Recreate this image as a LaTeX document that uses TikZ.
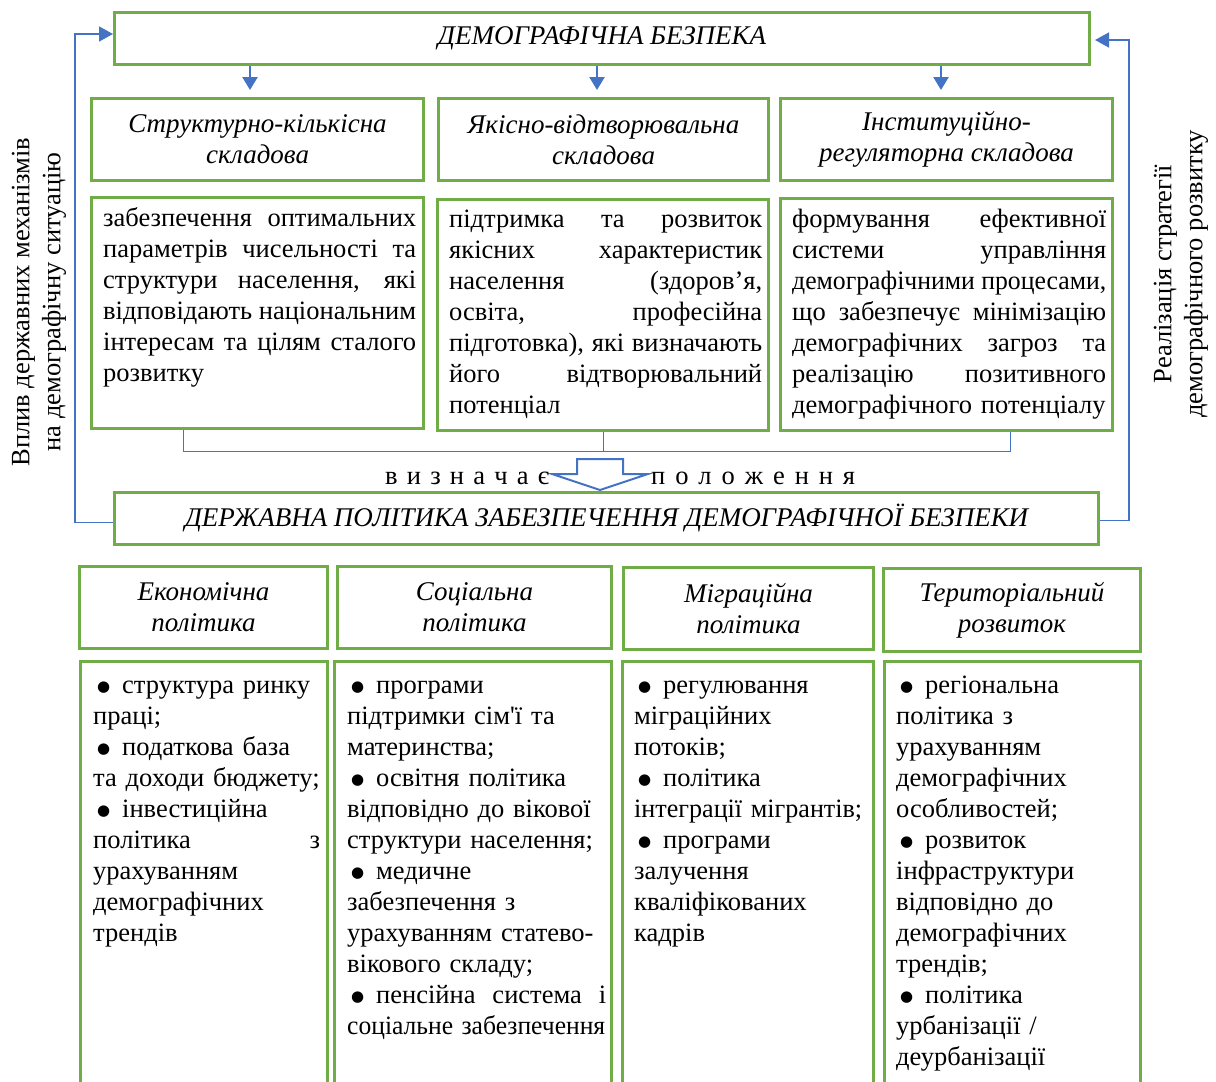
\documentclass[tikz,border=0pt]{standalone}
\usepackage{fontspec}
\usepackage{graphicx}
\setmainfont{Liberation Serif}[Ligatures=TeXOff]
\newfontfamily\dvs{DejaVu Sans}
\usetikzlibrary{arrows.meta}
\definecolor{grn}{HTML}{70AD47}
\definecolor{blu}{HTML}{4472C4}
\newsavebox\jbox
\newcommand\J[2]{\leavevmode\sbox\jbox{\spaceskip=0.25em\relax #2}%
  \ifdim\wd\jbox>#1\relax\resizebox{#1}{\height}{\usebox\jbox}%
  \else\hbox to #1{\spaceskip=0.25em plus 1fil\relax #2}\fi}
\newcommand\Cap[2]{\leavevmode\sbox\jbox{#2}%
  \ifdim\wd\jbox>#1\relax\resizebox{#1}{\height}{\usebox\jbox}\else\usebox\jbox\fi}
\newcommand\B{\hspace*{4pt}\makebox[25pt][l]{\raisebox{2.5pt}{\dvs\fontsize{15}{15}\selectfont ●}}}
\newcommand\fs{\fontsize{26.5}{31}\selectfont}
\newcommand\fh{\fontsize{27}{31}\selectfont}
\tikzset{
  gbox/.style={draw=grn, line width=3pt, anchor=north west, inner sep=0pt},
  hdr/.style={font=\fh\itshape, align=center},
  body/.style={font=\fs, align=left, anchor=north west, inner sep=0pt},
  fb/.style={draw=blu, line width=1.5pt},
  dn/.style={draw=blu, line width=2.5pt, -{Triangle[width=15pt,length=13pt]}},
  fbarrow/.style={fb, -{Triangle[width=15pt,length=14pt]}},
  brk/.style={draw=blu, line width=1pt}
}
\begin{document}
\begin{tikzpicture}[x=1pt,y=-1pt]
\useasboundingbox (0,0) rectangle (1216,1082);
\clip (0,0) rectangle (1216,1082);
% top title
\node[gbox, minimum width=975pt, minimum height=52pt] (top) at (113,11) {};
\node[hdr] (topt) at (top.center) {ДЕМОГРАФІЧНА БЕЗПЕКА};
% row 1 headers
\node[gbox, minimum width=332pt, minimum height=82pt] (h1) at (90,97) {};
\node[gbox, minimum width=330pt, minimum height=82pt] (h2) at (437,97) {};
\node[gbox, minimum width=332pt, minimum height=82pt] (h3) at (779,97) {};
\node[hdr] (h1t) at (h1.center) {Структурно-кількісна\\складова};
\node[hdr] (h2t) at (h2.center) {Якісно-відтворювальна\\складова};
\node[hdr] (h3t) at (h3.center) {Інституційно-\\регуляторна складова};
% down arrows
\coordinate (a1) at (250,90);
\coordinate (a2) at (597,90);
\coordinate (a3) at (941,90);
\draw[dn] (top.south -| a1) -- (a1);
\draw[dn] (top.south -| a2) -- (a2);
\draw[dn] (top.south -| a3) -- (a3);
% row 1 content
\node[gbox, minimum width=332pt, minimum height=231pt] (c1) at (90,196) {};
\node[gbox, minimum width=331pt, minimum height=231pt] (c2) at (436,198) {};
\node[gbox, minimum width=332pt, minimum height=232pt] (c3) at (779,197) {};
\node[body, text width=340pt] (t1) at (103,205) {\strut
\J{313pt}{забезпечення оптимальних}\\
\J{313pt}{параметрів чисельності та}\\
\J{313pt}{структури населення, які}\\
\J{313pt}{відповідають національним}\\
\J{313pt}{інтересам та цілям сталого}\\
розвитку};
\node[body, text width=340pt] (t2) at (449,206) {\strut
\J{313pt}{підтримка та розвиток}\\
\J{313pt}{якісних характеристик}\\
\J{313pt}{населення (здоров’я,}\\
\J{313pt}{освіта, професійна}\\
\J{313pt}{підготовка), які визначають}\\
\J{313pt}{його відтворювальний}\\
потенціал};
\node[body, text width=340pt] (t3) at (792,206) {\strut
\J{314pt}{формування ефективної}\\
\J{314pt}{системи управління}\\
\J{314pt}{демографічними процесами,}\\
\J{314pt}{що забезпечує мінімізацію}\\
\J{314pt}{демографічних загроз та}\\
\J{314pt}{реалізацію позитивного}\\
\Cap{314pt}{демографічного потенціалу}};
% bracket
\coordinate (bl) at (183,451);
\coordinate (br) at (1010,451);
\draw[brk] (c1.south -| bl) -- (bl) -- (br) -- (c3.south -| br);
\draw[brk] (c2.south) -- (c2.south |- bl);
% hollow arrow
\draw[draw=blu, line width=2pt, fill=white, line join=miter]
  (577,459) -- (623,459) -- (623,474) -- (648,474) -- (600,490) -- (552,474) -- (577,474) -- cycle;
\node[font=\fs, anchor=base west, inner sep=0pt] (w1) at (385,484) {\makebox[164pt][s]{в и з н а ч а є}};
\node[font=\fs, anchor=base west, inner sep=0pt] (w2) at (651,484) {\makebox[204pt][s]{п о л о ж е н н я}};
% second title
\node[gbox, minimum width=984pt, minimum height=52pt] (pol) at (113,491) {};
\node[hdr] (polt) at (pol.center) {ДЕРЖАВНА ПОЛІТИКА ЗАБЕЗПЕЧЕННЯ ДЕМОГРАФІЧНОЇ БЕЗПЕКИ};
% feedback loops
\coordinate (lx) at (75,34);
\coordinate (rx) at (1129,40);
\draw[fbarrow] ([yshift=-4pt]pol.west) -| (lx) -- (top.west |- lx);
\draw[fbarrow] ([yshift=-2pt]pol.east) -| (rx) -- ([xshift=4pt]top.east |- rx);
\node[font=\fs, rotate=90, align=center, inner sep=0pt] (lt) at (39,302) {Вплив державних механізмів\\на демографічну ситуацію};
\node[font=\fs, rotate=90, align=center, inner sep=0pt] (rt) at (1181,274) {Реалізація стратегії\\демографічного розвитку};
% row 2 headers
\node[gbox, minimum width=248pt, minimum height=82pt] (h4) at (78,565) {};
\node[gbox, minimum width=274pt, minimum height=82pt] (h5) at (336,565) {};
\node[gbox, minimum width=250pt, minimum height=82pt] (h6) at (622,566) {};
\node[gbox, minimum width=257pt, minimum height=83pt] (h7) at (882,567) {};
\node[hdr] (h4t) at (h4.center) {Економічна\\політика};
\node[hdr] (h5t) at (h5.center) {Соціальна\\політика};
\node[hdr] (h6t) at (h6.center) {Міграційна\\політика};
\node[hdr] (h7t) at (h7.center) {Територіальний\\розвиток};
% row 2 content
\node[gbox, minimum width=247pt, minimum height=450pt] (c4) at (79,660) {};
\node[gbox, minimum width=277pt, minimum height=450pt] (c5) at (333,660) {};
\node[gbox, minimum width=251pt, minimum height=450pt] (c6) at (621,660) {};
\node[gbox, minimum width=256pt, minimum height=450pt] (c7) at (883,660) {};
\node[body, text width=260pt] (t4) at (93,672) {\strut
\Cap{227pt}{\B структура ринку}\\
праці;\\
\Cap{227pt}{\B податкова база}\\
\Cap{227pt}{та доходи бюджету;}\\
\Cap{227pt}{\B інвестиційна}\\
\J{227pt}{політика з}\\
урахуванням\\
демографічних\\
трендів};
\node[body, text width=290pt] (t5) at (347,672) {\strut
\B програми\\
\Cap{259pt}{підтримки сім\symbol{"27}ї та}\\
материнства;\\
\Cap{259pt}{\B освітня політика}\\
\Cap{259pt}{відповідно до вікової}\\
\Cap{259pt}{структури населення;}\\
\B медичне\\
\Cap{259pt}{забезпечення з}\\
\Cap{259pt}{урахуванням статево-}\\
\Cap{259pt}{вікового складу;}\\
\J{259pt}{\B пенсійна система і}\\
\Cap{258pt}{соціальне забезпечення}};
\node[body, text width=260pt] (t6) at (634,672) {\strut
\Cap{228pt}{\B регулювання}\\
\Cap{228pt}{міграційних}\\
потоків;\\
\B політика\\
\Cap{228pt}{інтеграції мігрантів;}\\
\B програми\\
залучення\\
\Cap{228pt}{кваліфікованих}\\
кадрів};
\node[body, text width=260pt] (t7) at (896,672) {\strut
\Cap{234pt}{\B регіональна}\\
політика з\\
\Cap{234pt}{урахуванням}\\
\Cap{234pt}{демографічних}\\
\Cap{234pt}{особливостей;}\\
\B розвиток\\
\Cap{234pt}{інфраструктури}\\
\Cap{234pt}{відповідно до}\\
\Cap{234pt}{демографічних}\\
трендів;\\
\B політика\\
\Cap{234pt}{урбанізації /}\\
\Cap{234pt}{деурбанізації}};
\end{tikzpicture}
\end{document}
